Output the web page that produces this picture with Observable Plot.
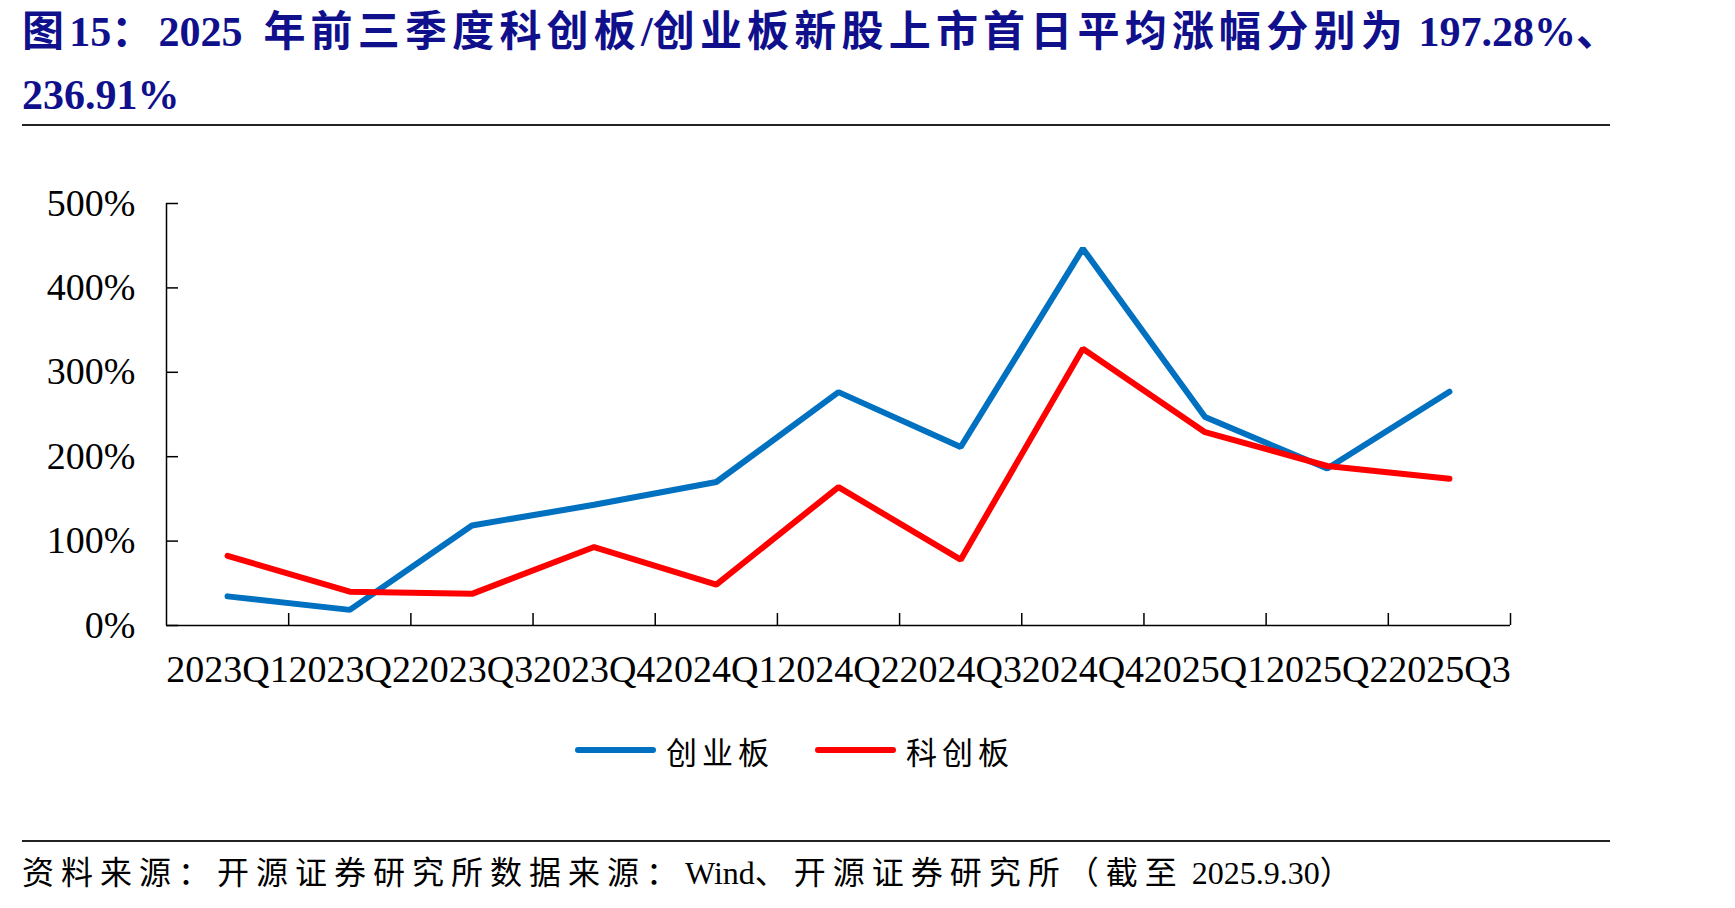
<!DOCTYPE html>
<html>
<head>
<meta charset="utf-8">
<script src="https://cdn.jsdelivr.net/npm/d3@7"></script>
<script src="https://cdn.jsdelivr.net/npm/@observablehq/plot@0.6"></script>
<style>
  html, body { margin: 0; padding: 0; background: #fff; }
  #page { position: relative; width: 1735px; height: 908px; overflow: hidden;
          font-family: "Liberation Serif", "Times New Roman", "Noto Sans CJK SC", serif; }
  .title { position: absolute; left: 22px; color: #10108c; font-weight: bold;
           font-size: 42px; white-space: nowrap; line-height: 1; }
  .rule { position: absolute; left: 22px; width: 1588px; background: #222; }
  #chart { position: absolute; left: 0; top: 150px; }
  #legend { position: absolute; top: 728px; left: 0; width: 1735px; height: 44px; }
  .lg { position: absolute; top: 0; height: 44px; display: flex; align-items: center;
        font-family: "Noto Sans CJK SC", serif; font-size: 31px; letter-spacing: 5px; color: #000; }
  .lg .sw { width: 81px; height: 6px; border-radius: 3px; margin-right: 10px; }
  #footer { position: absolute; left: 22px; top: 857px; font-size: 32px;
            white-space: nowrap; color: #000; line-height: 1; }
</style>
</head>
<body>
<div id="page">
  <div class="title" id="t1" style="top:11px"></div>
  <div class="title" id="t2" style="top:74px"></div>
  <div class="rule" style="top:124px;height:2px"></div>
  <div id="chart"></div>
  <div id="legend"></div>
  <div class="rule" style="top:840px;height:2px"></div>
  <div id="footer"></div>
</div>
<script>
// ---- data ----
const quarters = ["2023Q1","2023Q2","2023Q3","2023Q4","2024Q1","2024Q2","2024Q3","2024Q4","2025Q1","2025Q2","2025Q3"];
const chinextValues = [34.5, 18.5, 118.5, 143, 170, 276.5, 211.5, 446.5, 247, 186, 277];   // 创业板
const starValues    = [82.5, 40, 37.5, 93, 48.5, 164, 78, 328, 229, 189, 174];             // 科创板
const seriesNames = ["创业板", "科创板"];
const seriesColors = ["#0070C0", "#FF0000"];
const yTicks = [0, 100, 200, 300, 400, 500];
const titleLine1 = "图15：2025  年前三季度科创板/创业板新股上市首日平均涨幅分别为 197.28%、";
const titleLine2 = "236.91%";
const footerText = "资料来源：开源证券研究所数据来源：Wind、开源证券研究所（截至 2025.9.30）";

// ---- build table ----
const table = [];
[chinextValues, starValues].forEach((vals, s) => {
  vals.forEach((v, i) => table.push({i, quarter: quarters[i], value: v, series: seriesNames[s]}));
});
const idx = quarters.map((q, i) => i);
const bounds = quarters.map((q, i) => i + 0.5);

// mixed-script text: CJK runs get extra tracking, Latin runs none
function fillMixed(el, text, cjkSpacing) {
  const runs = text.match(/[\u3000-\u303f\u4e00-\u9fff\uff00-\uffef]+|[^\u3000-\u303f\u4e00-\u9fff\uff00-\uffef]+/g) || [];
  runs.forEach(r => {
    const sp = document.createElement("span");
    sp.textContent = r;
    sp.style.whiteSpace = "pre";
    if (/[\u3000-\u303f\u4e00-\u9fff\uff00-\uffef]/.test(r)) sp.style.letterSpacing = cjkSpacing + "px";
    el.appendChild(sp);
  });
}
fillMixed(document.getElementById("t1"), titleLine1, 5.2);
fillMixed(document.getElementById("t2"), titleLine2, 5.2);
fillMixed(document.getElementById("footer"), footerText, 7);

const font = `"Liberation Serif", "Times New Roman", serif`;
const chart = Plot.plot({
  width: 1735,
  height: 560,
  marginLeft: 166,
  marginRight: 225,
  marginTop: 53,
  marginBottom: 85,
  style: {fontFamily: font, fontSize: "38px", color: "#000", background: "transparent"},
  x: {type: "linear", domain: [-0.5, quarters.length - 0.5], label: null},
  y: {domain: [0, 500], label: null},
  color: {domain: seriesNames, range: seriesColors},
  marks: [
    // axis lines
    Plot.ruleX([-0.5], {stroke: "#000", strokeWidth: 1.5}),
    Plot.ruleY([0], {stroke: "#000", strokeWidth: 1.5}),
    // y ticks inward
    Plot.axisY(yTicks, {tickSize: -12, text: null, label: null, stroke: "#000", strokeWidth: 1.5}),
    Plot.axisY(yTicks, {tickSize: 0, tickPadding: 31, label: null, tickFormat: d => d + "%", fontSize: 38, fill: "#000"}),
    // x ticks at category boundaries, inward
    Plot.axisX(bounds, {tickSize: -12, text: null, label: null, stroke: "#000", strokeWidth: 1.5}),
    Plot.axisX(idx, {tickSize: 0, tickPadding: 30, label: null, tickFormat: i => quarters[i], fontSize: 38, fill: "#000"}),
    Plot.line(table, {x: "i", y: "value", z: "series", stroke: "series", strokeWidth: 6,
                      strokeLinecap: "round", strokeLinejoin: "miter"})
  ]
});
document.getElementById("chart").appendChild(chart);

// legend
const lgPos = [575, 815];
const legend = document.getElementById("legend");
seriesNames.forEach((n, k) => {
  const d = document.createElement("div");
  d.className = "lg";
  d.style.left = lgPos[k] + "px";
  d.innerHTML = `<div class="sw" style="background:${seriesColors[k]}"></div><span>${n}</span>`;
  legend.appendChild(d);
});
</script>
</body>
</html>
